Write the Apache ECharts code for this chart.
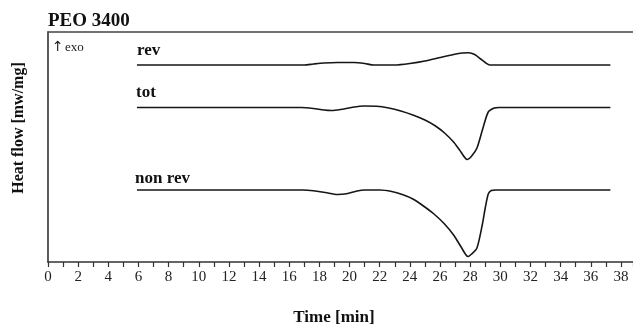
<!DOCTYPE html>
<html>
<head>
<meta charset="utf-8">
<script src="https://cdn.jsdelivr.net/npm/echarts@6/dist/echarts.min.js"></script>
<style>
html,body{margin:0;padding:0;background:#fff;}
#c{width:633px;height:331px;}
</style>
</head>
<body>
<div id="c"></div>
<script>
// Time [min] and heat-flow (arbitrary offset units)
const revTime = [5.9,17.0,17.6,18.3,19.2,20.3,21.0,21.6,23.0,24.0,25.0,26.0,26.9,27.5,27.9,28.3,28.7,29.0,29.3,37.3];
const revFlow = [197,197,198,199,199.5,199.5,198.5,197,197,198.5,201,204.5,207.5,209,209.3,207.5,203,199.5,197,197];

const totTime = [5.9,16.8,17.6,18.3,18.8,19.4,20.2,21.0,21.8,22.6,23.4,24.2,25.0,25.7,26.3,26.9,27.3,27.8,28.1,28.45,28.85,29.2,29.6,29.9,37.3];
const totFlow = [154.5,154.5,153.5,152,151.5,152.5,154.8,156,155.8,154,151,147,142,136,129,120,112,102.5,106,114,134,150,154,154.5,154.5];

const nonRevTime = [5.9,16.9,17.6,18.4,19.2,19.8,20.5,21.0,22.0,22.8,23.5,24.2,24.9,25.6,26.3,26.9,27.4,27.85,28.1,28.45,28.8,29.0,29.2,29.4,29.7,37.3];
const nonRevFlow = [72,72,71.3,69.5,67.5,68.3,71,72,72,70.5,67.5,63,56,48,38,27,15,5.5,8,14,37,54,68,71.5,72,72];

const xTickLabels = [0,2,4,6,8,10,12,14,16,18,20,22,24,26,28,30,32,34,36,38];

function pairs(t, v){ return t.map((x,i)=>[x, v[i]]); }

const serif = '"Liberation Serif","DejaVu Serif",serif';
const lineStyle = {color:'#161616', width:1.6};

const chart = echarts.init(document.getElementById('c'), null, {renderer:'canvas'});
chart.setOption({
  animation:false,
  backgroundColor:'#fff',
  grid:{left:48, right:0, top:32, bottom:69},
  xAxis:[{
    type:'value', min:0, max:38.8, interval:2,
    axisLine:{show:true, onZero:false, lineStyle:{color:'#333', width:1.6}},
    axisTick:{show:true, inside:false, length:5, lineStyle:{color:'#333', width:1.2}},
    minorTick:{show:true, splitNumber:2, length:5, lineStyle:{color:'#333', width:1.2}},
    splitLine:{show:false},
    axisLabel:{
      color:'#222', fontFamily:serif, fontSize:15, margin:8, showMaxLabel:false,
      formatter:function(v){ return xTickLabels.indexOf(v) >= 0 ? String(v) : ''; }
    }
  },{
    type:'value', min:0, max:38.8, position:'top',
    axisLine:{show:true, onZero:false, lineStyle:{color:'#444', width:1.6}},
    axisTick:{show:false}, axisLabel:{show:false}, splitLine:{show:false}
  }],
  yAxis:{
    type:'value', min:0, max:230,
    axisLine:{show:true, onZero:false, lineStyle:{color:'#333', width:1.6}},
    axisTick:{show:false}, axisLabel:{show:false}, splitLine:{show:false}
  },
  series:[
    {name:'rev', type:'line', data:pairs(revTime, revFlow), showSymbol:false, smooth:0.25, lineStyle:lineStyle},
    {name:'tot', type:'line', data:pairs(totTime, totFlow), showSymbol:false, smooth:0.25, lineStyle:lineStyle},
    {name:'non rev', type:'line', data:pairs(nonRevTime, nonRevFlow), showSymbol:false, smooth:0.25, lineStyle:lineStyle}
  ],
  graphic:[
    {type:'text', x:48, y:21, style:{text:'PEO 3400', font:'bold 19px '+serif, fill:'#111', textVerticalAlign:'middle'}},
    {type:'text', x:52, y:47, style:{text:'↑', font:'14px "DejaVu Sans",sans-serif', fill:'#222', textVerticalAlign:'middle'}},
    {type:'text', x:65, y:48, style:{text:'exo', font:'13px '+serif, fill:'#222', textVerticalAlign:'middle'}},
    {type:'text', x:137, y:51, style:{text:'rev', font:'bold 17px '+serif, fill:'#111', textVerticalAlign:'middle'}},
    {type:'text', x:136, y:93, style:{text:'tot', font:'bold 17px '+serif, fill:'#111', textVerticalAlign:'middle'}},
    {type:'text', x:135, y:179, style:{text:'non rev', font:'bold 17px '+serif, fill:'#111', textVerticalAlign:'middle'}},
    {type:'text', x:334, y:318, style:{text:'Time [min]', font:'bold 17px '+serif, fill:'#111', textAlign:'center', textVerticalAlign:'middle'}},
    {type:'text', x:19, y:128, rotation:Math.PI/2, style:{text:'Heat flow [mw/mg]', font:'bold 16px '+serif, fill:'#111', textAlign:'center', textVerticalAlign:'middle'}}
  ]
});
</script>
</body>
</html>
